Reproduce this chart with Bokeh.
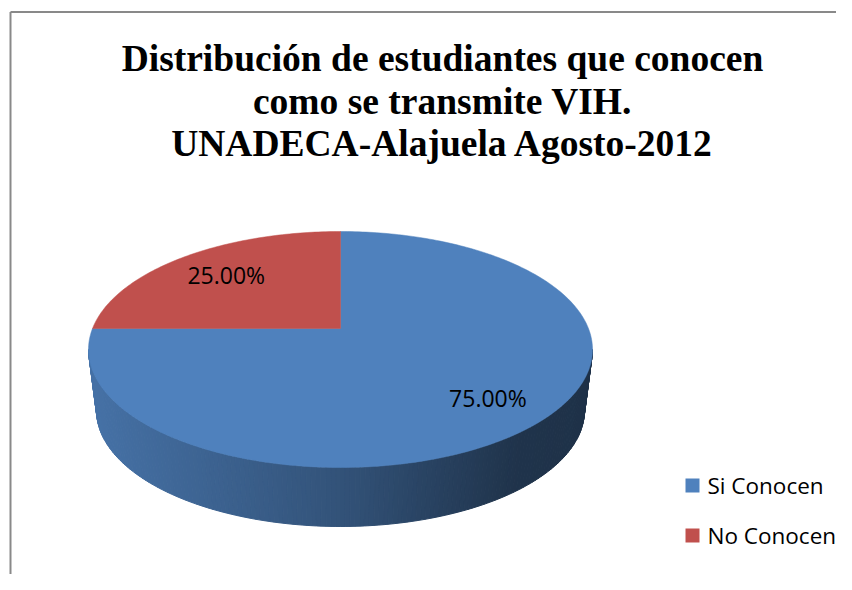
import numpy as np
from bokeh.plotting import figure
from bokeh.models import Range1d, ColumnDataSource
from bokeh.core.properties import value
from bokeh.embed import file_html
from bokeh.resources import INLINE

# ---------------- data ----------------
categories = ["Si Conocen", "No Conocen"]
percentages = [75.0, 25.0]
slice_labels = ["75.00%", "25.00%"]
slice_colors = ["#4F81BD", "#C0504D"]
title_lines = [
    "Distribución de estudiantes que conocen",
    "como se transmite VIH.",
    "UNADECA-Alajuela Agosto-2012",
]

# ---------------- canvas ----------------
W, H = 836, 574
p = figure(width=W, height=H, x_range=Range1d(0, W), y_range=Range1d(H, 0),
           output_backend="svg", toolbar_location=None, min_border=0,
           x_axis_location=None, y_axis_location=None)
p.grid.visible = False
p.outline_line_color = None
p.background_fill_color = "white"
p.border_fill_color = "white"

# chart border (cropped on right/bottom like the reference)
p.multi_line(xs=[[10, 10], [10, W]], ys=[[H, 11.5], [11.5, 11.5]],
             line_color="#898989", line_width=2)

# ---------------- 3D pie geometry (style constants) ----------------
PX, PY = 340.0, 328.0        # projected pie centre
CX, CY = 340.0, 349.0        # top ellipse centre
A, B = 252.0, 118.0          # top ellipse radii
BCX, BCY = 340.0, 410.0      # bottom ellipse centre
A2, B2 = 244.0, 116.0        # bottom ellipse radii
LABEL_R = 0.74


def rim(phi):
    """point on top ellipse for pie angle phi (clockwise from 12 o'clock)"""
    ux, uy = np.sin(phi), -np.cos(phi)
    ox, oy = (PX - CX) / A, (PY - CY) / B
    od = ox * ux + oy * uy
    t = -od + np.sqrt(od * od - (ox * ox + oy * oy - 1.0))
    return PX + t * A * ux, PY + t * B * uy


def hex2rgb(h):
    h = h.lstrip("#")
    return tuple(int(h[i:i + 2], 16) for i in (0, 2, 4))


total = sum(percentages)
fracs = [v / total for v in percentages]
starts = np.concatenate([[0.0], np.cumsum(fracs)[:-1]]) * 2 * np.pi
ends = np.cumsum(fracs) * 2 * np.pi


def slice_at(phi):
    phi = phi % (2 * np.pi)
    for i, (s, e) in enumerate(zip(starts, ends)):
        if s <= phi < e:
            return i
    return len(percentages) - 1


def shade(xn):
    stops_x = [0.0, 0.5, 0.85, 1.0]
    stops_f = [0.88, 0.64, 0.40, 0.38]
    return float(np.interp(xn, stops_x, stops_f))


# ---- side wall (front half) as gradient strips ----
N = 160
us = np.linspace(0, np.pi, N + 1)
side_xs, side_ys, side_cols = [], [], []
for u0, u1 in zip(us[:-1], us[1:]):
    tx0, ty0 = CX - A * np.cos(u0), CY + B * np.sin(u0)
    tx1, ty1 = CX - A * np.cos(u1), CY + B * np.sin(u1)
    bx0, by0 = BCX - A2 * np.cos(u0), BCY + B2 * np.sin(u0)
    bx1, by1 = BCX - A2 * np.cos(u1), BCY + B2 * np.sin(u1)
    side_xs.append([tx0, tx1, bx1, bx0])
    side_ys.append([ty0, ty1, by1, by0])
    mx, my = (tx0 + tx1) / 2, (ty0 + ty1) / 2
    phi = np.arctan2(mx - PX, -(my - PY)) % (2 * np.pi)
    base = hex2rgb(slice_colors[slice_at(phi)])
    f = shade(((tx0 + tx1) / 2 - (CX - A)) / (2 * A))
    r, g, b = (int(round(c * f)) for c in base)
    side_cols.append("#%02x%02x%02x" % (r, g, b))

p.patches(xs=side_xs, ys=side_ys, fill_color=side_cols, line_color=side_cols,
          line_width=1)

# ---- top face slices ----
top_xs, top_ys = [], []
for s, e in zip(starts, ends):
    n = max(8, int((e - s) / (2 * np.pi) * 360))
    phis = np.linspace(s, e, n)
    pts = [rim(ph) for ph in phis]
    top_xs.append([PX] + [q[0] for q in pts])
    top_ys.append([PY] + [q[1] for q in pts])
p.patches(xs=top_xs, ys=top_ys, fill_color=slice_colors, line_color=slice_colors,
          line_width=0.5)

# ---- data labels ----
mids = (starts + ends) / 2
rims = [rim(m) for m in mids]
lab_src = ColumnDataSource(dict(
    x=[PX + LABEL_R * (r[0] - PX) for r in rims],
    y=[PY + LABEL_R * (r[1] - PY) for r in rims],
    t=slice_labels))
p.text(x="x", y="y", text="t", source=lab_src, text_align="center",
       text_baseline="middle", text_font=value("Open Sans"),
       text_font_size="23px", text_color="black")

# ---- title ----
tsrc = ColumnDataSource(dict(x=[442] * len(title_lines),
                             y=[58 + 42.5 * i for i in range(len(title_lines))],
                             t=title_lines))
p.text(x="x", y="y", text="t", source=tsrc, text_align="center",
       text_baseline="middle", text_font=value("Liberation Serif"),
       text_font_style="bold", text_font_size="37.5px", text_color="black")

# ---- legend ----
leg_y = [485 + 50 * i for i in range(len(categories))]
p.scatter(x=[692] * len(categories), y=leg_y, marker="square", size=14,
          fill_color=slice_colors, line_color=None)
p.text(x=[707] * len(categories), y=leg_y, text=categories, text_align="left",
       text_baseline="middle", text_font=value("Open Sans"),
       text_font_size="22.5px", text_color="black")

open("out.html", "w").write(file_html(p, INLINE))
